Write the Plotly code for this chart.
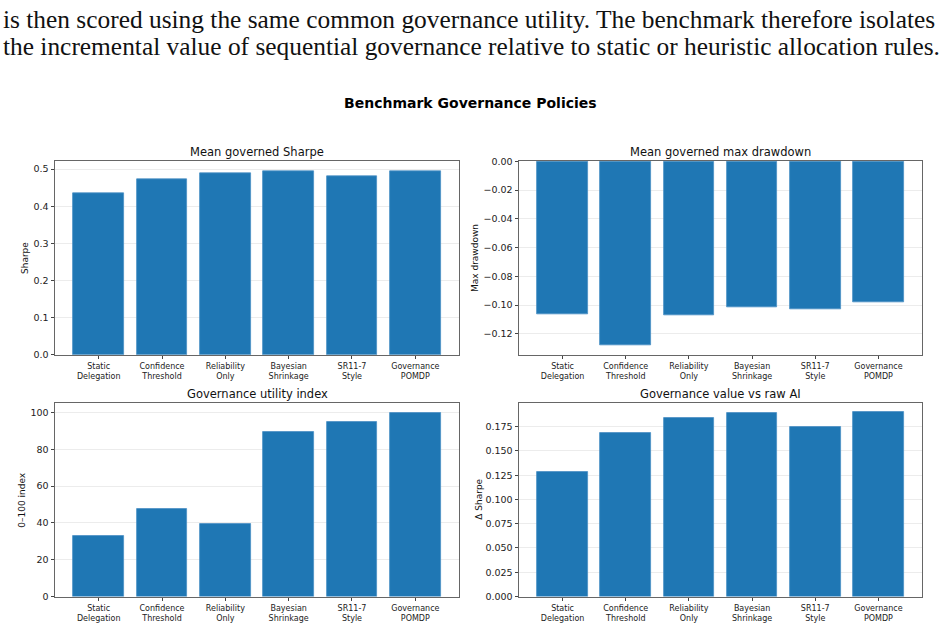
import plotly.graph_objects as go

W, H = 947, 632

categories = ["Static<br>Delegation", "Confidence<br>Threshold", "Reliability<br>Only",
              "Bayesian<br>Shrinkage", "SR11-7<br>Style", "Governance<br>POMDP"]
sharpe = [0.434, 0.4735, 0.4885, 0.494, 0.4797, 0.4947]
max_drawdown = [-0.1063, -0.1282, -0.1070, -0.1013, -0.1029, -0.0983]
utility_index = [32.9, 47.5, 39.6, 89.3, 95.0, 100.0]
delta_sharpe = [0.1285, 0.1689, 0.1835, 0.1889, 0.1750, 0.1899]

panel_titles = ["Mean governed Sharpe", "Mean governed max drawdown",
                "Governance utility index", "Governance value vs raw AI"]
y_titles = ["Sharpe", "Max drawdown", "0–100 index", "Δ Sharpe"]
suptitle = "Benchmark Governance Policies"
paper_lines = [
    "is then scored using the same common governance utility. The benchmark therefore isolates",
    "the incremental value of sequential governance relative to static or heuristic allocation rules.",
]

FONT = "DejaVu Sans"
BAR = "#1f77b4"

# pixel boxes of the four axes: (left, right, top, bottom)
boxes = [(55, 459, 158, 355), (519, 922, 158, 355),
         (55, 459, 404, 601), (519, 922, 404, 601)]
series = [sharpe, max_drawdown, utility_index, delta_sharpe]
yranges = [[0, 0.521], [-0.1346, 0], [0, 105.2], [0, 0.1994]]
ydticks = [0.1, 0.02, 20, 0.025]
yformats = [".1f", ".2f", "d", ".3f"]
ytitle_x = [25, 475, 22, 479]

fig = go.Figure()
xs = list(range(len(categories)))

for i, (vals, box) in enumerate(zip(series, boxes)):
    l, r, t, b = box
    sfx = "" if i == 0 else str(i + 1)
    fig.add_trace(go.Bar(x=xs, y=vals, width=0.8, marker=dict(color=BAR, line=dict(color="#4a8fc4", width=0.8)),
                         xaxis="x" + sfx, yaxis="y" + sfx, showlegend=False))
    fig.layout["xaxis" + sfx] = dict(
        domain=[l / W, r / W], anchor="y" + sfx, range=[-0.69, 5.69],
        tickmode="array", tickvals=xs, ticktext=categories,
        tickfont=dict(family=FONT, size=8, color="#222"),
        ticks="outside", ticklen=3.5, tickcolor="#444", showgrid=False,
        showline=True, linecolor="#666", linewidth=1, mirror=True, zeroline=False,
    )
    fig.layout["yaxis" + sfx] = dict(
        domain=[1 - b / H, 1 - t / H], anchor="x" + sfx, range=yranges[i],
        dtick=ydticks[i], tick0=0, tickformat=yformats[i],
        tickfont=dict(family=FONT, size=9.5, color="#222"),
        ticks="outside", ticklen=3.5, tickcolor="#444",
        showgrid=True, gridcolor="#ececec", gridwidth=1,
        showline=True, linecolor="#666", linewidth=1, mirror=True, zeroline=False,
    )
    fig.add_annotation(text=panel_titles[i], x=(l + r) / 2 / W, y=1 - (t - 9) / H,
                       xref="paper", yref="paper", showarrow=False, xanchor="center", yanchor="middle",
                       font=dict(family=FONT, size=11.5, color="#111"))
    fig.add_annotation(text=y_titles[i], x=ytitle_x[i] / W, y=1 - (t + b) / 2 / H,
                       xref="paper", yref="paper", showarrow=False, textangle=-90,
                       xanchor="center", yanchor="middle",
                       font=dict(family=FONT, size=9, color="#111"))

fig.add_annotation(text="<b>" + suptitle + "</b>", x=470 / W, y=1 - 99 / H, xref="paper", yref="paper",
                   showarrow=False, xanchor="center", yanchor="middle",
                   font=dict(family=FONT, size=14, color="#000"))

for j, line in enumerate(paper_lines):
    fig.add_annotation(text=line, x=1 / W, y=1 - (13 + 28 * j) / H, xref="paper", yref="paper",
                       showarrow=False, xanchor="left", yanchor="middle",
                       font=dict(family="Liberation Serif", size=25.4, color="#111"))

fig.update_layout(width=W, height=H, margin=dict(l=0, r=0, t=0, b=0),
                  paper_bgcolor="white", plot_bgcolor="white", bargap=0)

fig.write_html("out.html")
